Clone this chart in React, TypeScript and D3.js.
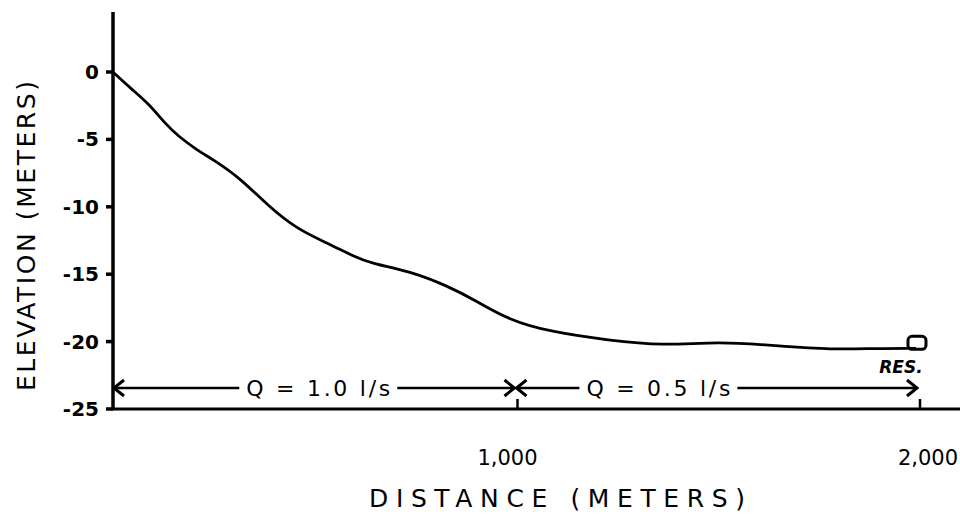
import React from "react";
import * as d3 from "d3";

// hand-read profile: distance (m) vs elevation (m)
const distance = [0, 47, 87, 135, 160, 209, 249, 317, 384, 459, 534, 599, 641, 741, 833, 898, 983, 1090, 1232, 1364, 1506, 1646, 1788, 1895, 1995];
const elevation = [0, -1.3, -2.3, -4.0, -4.7, -5.8, -6.5, -7.9, -9.9, -11.7, -12.7, -13.7, -14.2, -14.8, -15.9, -16.9, -18.4, -19.3, -19.9, -20.3, -20.0, -20.3, -20.6, -20.5, -20.5];

const yTicks = [0, -5, -10, -15, -20, -25];
const yTickLabels = ["0", "-5", "-10", "-15", "-20", "-25"];
const xTicks = [1000, 2000];
const xTickLabels = ["1,000", "2,000"];

const flowStart = [0, 1000];
const flowEnd = [1000, 2000];
const flowLabels = ["Q = 1.0 l/s", "Q = 0.5 l/s"];
const flowLabelAt = [510, 1355];

const W = 960;
const H = 518;
const font = "'DejaVu Sans', sans-serif";

export default function App() {
  const x = d3.scaleLinear().domain([0, 2000]).range([113, 918]);
  const y = d3.scaleLinear().domain([-25, 0]).range([409, 72]);

  const pts = distance.map((d, i) => [d, elevation[i]] as [number, number]);
  const line = d3
    .line<[number, number]>()
    .x((d) => x(d[0]))
    .y((d) => y(d[1]))
    .curve(d3.curveBasis);

  const arrowY = 388;
  const labelW = 150;

  const arrowHead = (px: number, dir: number) =>
    `M${px + dir * 10},${arrowY - 8} L${px},${arrowY} L${px + dir * 10},${arrowY + 8}`;

  const last = pts[pts.length - 1];

  return (
    <svg
      width={W}
      height={H}
      style={{ position: "absolute", left: 0, top: 0, background: "#fff" }}
      fontFamily={font}
    >
      {/* axes */}
      <line x1={113} x2={113} y1={12} y2={y(-25)} stroke="#000" strokeWidth={3.5} />
      <line x1={111} x2={W} y1={y(-25)} y2={y(-25)} stroke="#000" strokeWidth={3} />

      {yTicks.map((t, i) => (
        <g key={t}>
          <line x1={106} x2={113} y1={y(t)} y2={y(t)} stroke="#000" strokeWidth={3.5} />
          <text x={99} y={y(t)} dy="0.35em" textAnchor="end" fontSize={20} fontWeight="bold">
            {yTickLabels[i]}
          </text>
        </g>
      ))}

      {xTicks.map((t, i) => (
        <g key={t}>
          <line x1={x(t) + 2} x2={x(t) + 2} y1={y(-25) - 10} y2={y(-25)} stroke="#000" strokeWidth={2.5} />
          <text x={x(t) - (i === 0 ? 8 : -10)} y={458} dy="0.35em" textAnchor="middle" fontSize={21}>
            {xTickLabels[i]}
          </text>
        </g>
      ))}

      <text
        transform={`translate(26,236) rotate(-90)`}
        textAnchor="middle"
        dy="0.35em"
        fontSize={25}
        textLength={310}
        lengthAdjust="spacing"
      >
        ELEVATION (METERS)
      </text>
      <text x={557} y={498} dy="0.35em" textAnchor="middle" fontSize={25} textLength={376} lengthAdjust="spacing">
        DISTANCE (METERS)
      </text>

      {/* profile */}
      <path d={line(pts) ?? ""} fill="none" stroke="#000" strokeWidth={2.8} strokeLinejoin="round" />
      <rect x={x(last[0]) - 8} y={y(last[1]) - 12} width={18} height={13} rx={4} fill="none" stroke="#000" strokeWidth={3} />
      <text x={x(last[0]) - 15} y={y(last[1]) + 19} dy="0.35em" textAnchor="middle" fontSize={17} fontWeight="bold" fontStyle="italic">
        RES.
      </text>

      {/* flow arrows */}
      {flowStart.map((s, i) => {
        const x0 = x(s);
        const x1 = x(flowEnd[i]);
        const lx = x(flowLabelAt[i]);
        return (
          <g key={i}>
            <line x1={x0 + 2} x2={lx - labelW / 2 - 4} y1={arrowY} y2={arrowY} stroke="#000" strokeWidth={2.5} />
            <line x1={lx + labelW / 2 + 4} x2={x1 - 2} y1={arrowY} y2={arrowY} stroke="#000" strokeWidth={2.5} />
            <path d={arrowHead(x0 + 1, 1)} fill="none" stroke="#000" strokeWidth={3} />
            <path d={arrowHead(x1 - 1, -1)} fill="none" stroke="#000" strokeWidth={3} />
            <text x={lx} y={arrowY} dy="0.35em" textAnchor="middle" fontSize={22} textLength={labelW - 6} lengthAdjust="spacing">
              {flowLabels[i]}
            </text>
          </g>
        );
      })}
    </svg>
  );
}
